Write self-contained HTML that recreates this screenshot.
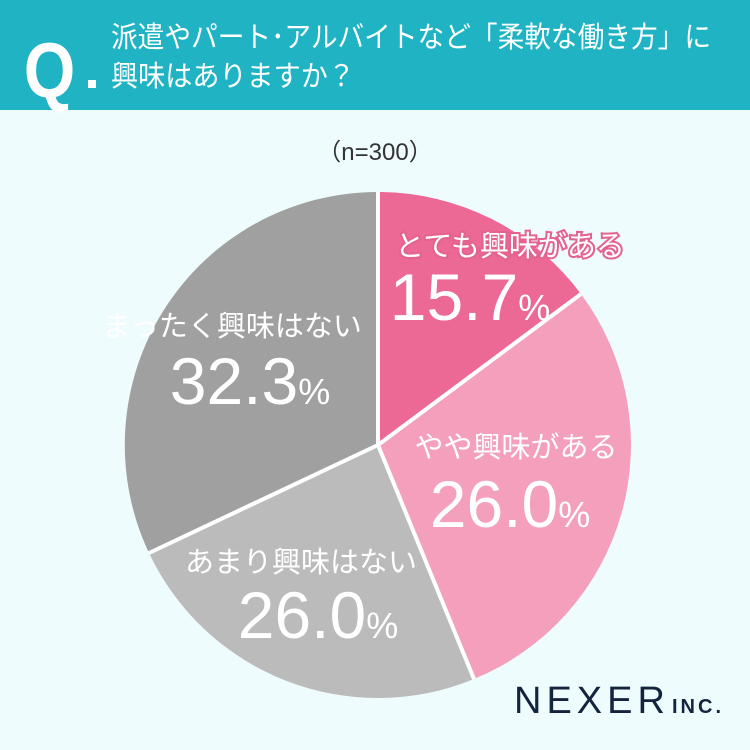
<!DOCTYPE html>
<html><head><meta charset="utf-8"><style>
html,body{margin:0;padding:0}
body{width:750px;height:750px;background:#effcfd;overflow:hidden;position:relative;font-family:"Liberation Sans","Noto Sans CJK JP",sans-serif}
</style></head><body>
<svg width="750" height="750" viewBox="0 0 750 750" xmlns="http://www.w3.org/2000/svg" style="position:absolute;left:0;top:0">
<rect x="0" y="0" width="750" height="110" fill="#20b3c3"/>
<text x="24" y="97" font-family="Liberation Sans, sans-serif" font-weight="bold" font-size="78" fill="#fff" transform="scale(0.85,1) translate(4,0)">Q</text>
<rect x="88" y="80" width="8" height="8" fill="#fff"/>
<g font-family="Liberation Sans, Noto Sans CJK JP, sans-serif" font-size="29" fill="#fff">
<text x="111" y="47" textLength="600" lengthAdjust="spacingAndGlyphs">派遣やパート･アルバイトなど「柔軟な働き方」に</text>
<text x="111" y="86" textLength="244" lengthAdjust="spacingAndGlyphs">興味はありますか？</text>
</g>
<text x="375" y="160" text-anchor="middle" font-family="Liberation Sans, Noto Sans CJK JP, sans-serif" font-size="24" fill="#333">（n=300）</text>
<path d="M378,445 L378,192 A253,253 0 0 1 581,294 Z" fill="#ec6895"/>
<path d="M378,445 L581,294 A253,253 0 0 1 474,679 Z" fill="#f49fbc"/>
<path d="M378,445 L474,679 A253,253 0 0 1 149,553 Z" fill="#bbbbbb"/>
<path d="M378,445 L149,553 A253,253 0 0 1 378,192 Z" fill="#a0a0a0"/>
<g stroke="#fff" stroke-width="4" stroke-linecap="butt">
<line x1="378" y1="445" x2="378" y2="192"/>
<line x1="378" y1="445" x2="581" y2="294"/>
<line x1="378" y1="445" x2="474" y2="679"/>
<line x1="378" y1="445" x2="149" y2="553"/>
</g>
<g font-family="Liberation Sans, Noto Sans CJK JP, sans-serif" fill="#fff" text-anchor="middle">
<text x="510" y="256" font-size="29" stroke="#e4628f" stroke-width="4" paint-order="stroke">とても興味がある</text>
<text x="470" y="320" font-size="66">15.7<tspan font-size="36">%</tspan></text>
<text x="516" y="457" font-size="29">やや興味がある</text>
<text x="510" y="527" font-size="66">26.0<tspan font-size="36">%</tspan></text>
<text x="232" y="336" font-size="29">まったく興味はない</text>
<text x="250" y="404" font-size="66">32.3<tspan font-size="36">%</tspan></text>
<text x="301" y="572" font-size="29">あまり興味はない</text>
<text x="318" y="638" font-size="66">26.0<tspan font-size="36">%</tspan></text>
</g>
<text x="514" y="713" font-family="Liberation Sans, sans-serif" font-size="38" fill="#14243f" letter-spacing="5">NEXER</text>
<text x="672" y="713" font-family="Liberation Sans, sans-serif" font-weight="bold" font-size="20" fill="#14243f" letter-spacing="3">INC.</text>
</svg>
</body></html>
